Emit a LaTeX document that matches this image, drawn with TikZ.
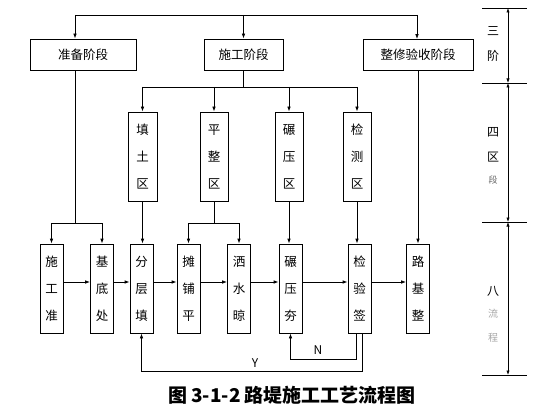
\documentclass[tikz,border=0pt]{standalone}
\usepackage{fontspec}
\setmainfont{Noto Sans CJK SC}
\usetikzlibrary{arrows.meta,positioning,calc}
\colorlet{cfade}{black!35}

\begin{document}
\begin{tikzpicture}[x=1pt,y=-1pt,
  ln/.style={line width=0.8pt},
  arr/.style={line width=0.8pt,-{Latex[length=5pt,width=3.6pt]}},
  dim/.style={line width=0.6pt,{Latex[length=4.5pt,width=3.2pt]}-{Latex[length=4.5pt,width=3.2pt]}},
  stage/.style={draw,line width=0.8pt,minimum height=31pt,inner sep=0pt,font=\fontsize{12.5}{14}\selectfont},
  col/.style={draw,line width=0.8pt,minimum height=89pt,inner sep=0pt,align=center,font=\fontsize{12.5}{27}\selectfont},
  side/.style={align=center,font=\fontsize{12}{25}\selectfont}]
\useasboundingbox (0,0) rectangle (560,420);
% stages
\node[stage,minimum width=106pt] (prep) at (83,54.5) {准备阶段};
\node[stage,minimum width=79pt] (build) at (243.5,54.5) {施工阶段};
\node[stage,minimum width=110pt] (finish) at (418,55) {整修验收阶段};
% zones
\node[col,minimum width=29pt] (zfill) at (142.5,156.5) {填\\土\\区};
\node[col,minimum width=28pt] (zlevel) at (214,156.5) {平\\整\\区};
\node[col,minimum width=28pt] (zroll) at (289,156.5) {碾\\压\\区};
\node[col,minimum width=28pt] (zcheck) at (357,156.5) {检\\测\\区};
% work steps
\node[col,minimum width=23pt] (ready) at (51.5,288.5) {施\\工\\准};
\node[col,minimum width=23pt] (base) at (102,288.5) {基\\底\\处};
\node[col,minimum width=23pt] (layer) at (141.5,288.5) {分\\层\\填};
\node[col,minimum width=23pt] (spread) at (188.5,288.5) {摊\\铺\\平};
\node[col,minimum width=23pt] (water) at (239,288.5) {洒\\水\\晾};
\node[col,minimum width=23pt] (compact) at (290.5,288.5) {碾\\压\\夯};
\node[col,minimum width=23pt] (inspect) at (359.5,288.5) {检\\验\\签};
\node[col,minimum width=23pt] (road) at (418,288.5) {路\\基\\整};

% top split
\coordinate (tl) at (75,15);
\coordinate (tr) at (417,15);
\draw[ln] (tl) -- (tr);
\draw[arr] (tl) -- (tl |- prep.north);
\draw[arr] (tl -| build.north) -- (build.north);
\draw[arr] (tr) -- (tr |- finish.north);

% construction stage to zones
\coordinate (bs) at (245,87);
\draw[ln] (build.south) -- (build.south |- bs);
\draw[ln] (zfill.north |- bs) -- (zcheck.north |- bs);
\foreach \z in {zfill,zlevel,zroll,zcheck}
  \draw[arr] (\z.north |- bs) -- (\z.north);

% preparation split
\coordinate (ps) at (75,223);
\draw[ln] (prep.south -| ps) -- (ps);
\draw[ln] (ready.north |- ps) -- (base.north |- ps);
\draw[arr] (ready.north |- ps) -- (ready.north);
\draw[arr] (base.north |- ps) -- (base.north);

% levelling split
\draw[ln] (zlevel.south) -- (zlevel.south |- ps);
\draw[ln] (spread.north |- ps) -- (water.north |- ps);
\draw[arr] (spread.north |- ps) -- (spread.north);
\draw[arr] (water.north |- ps) -- (water.north);

% straight drops
\draw[arr] (zfill.south) -- (zfill.south |- layer.north);
\draw[arr] (zroll.south) -- (zroll.south |- compact.north);
\draw[arr] (zcheck.south) -- (zcheck.south |- inspect.north);
\draw[arr] (finish.south) -- (road.north);

% process chain
\foreach \a/\b in {ready/base,base/layer,layer/spread,spread/water,water/compact,compact/inspect,inspect/road}
  \draw[arr] ([yshift=6.5pt]\a.east) -- ([yshift=6.5pt]\b.west);

% feedback loops
\coordinate (nl) at (356,359);
\coordinate (yl) at (362,371);
\draw[arr] (inspect.south -| nl) -- (nl) -| (compact.south);
\draw[arr] (inspect.south -| yl) -- (yl) -| (layer.south);
\node[font=\fontsize{12}{14}\selectfont] (nlab) at (318,350) {N};
\node[font=\fontsize{12}{14}\selectfont] (ylab) at (255,363) {Y};

% dimension column
\foreach \t/\y in {d0/8,d1/83,d2/222,d3/375}{
  \coordinate (\t) at (508,\y);
  \draw[line width=0.6pt] ([xshift=-26pt]\t) -- ([xshift=19pt]\t);
}
\draw[dim] (d0) -- (d1);
\draw[dim] (d1) -- (d2);
\draw[dim] (d2) -- (d3);
\node[side] (s1) at (493,44.5) {三\\阶};
\node[side] (s2) at (493,145) {四\\区};
\node[font=\fontsize{9}{10}\selectfont,text=black!60] (s2b) at (493,180) {段};
\node[font=\fontsize{12}{14}\selectfont] (s3) at (493,291) {八};
\node[font=\fontsize{10}{12}\selectfont,text=cfade] (s3b) at (493,314) {流};
\node[font=\fontsize{10}{12}\selectfont,text=cfade] (s3c) at (493,338) {程};

% caption
\node[font=\fontsize{19}{21}\selectfont\bfseries] (cap) at (292,395) {图 3-1-2 路堤施工工艺流程图};
\end{tikzpicture}
\end{document}
